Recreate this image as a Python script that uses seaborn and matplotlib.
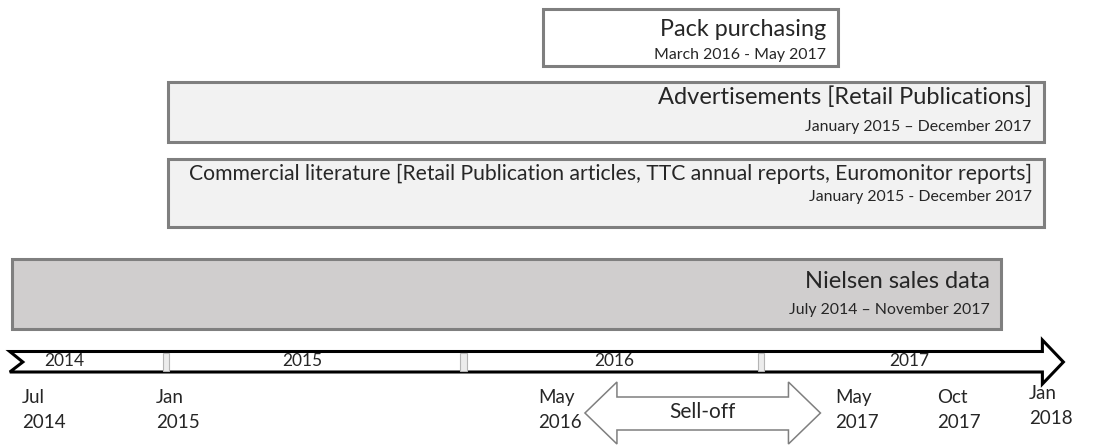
import seaborn as sns
import matplotlib.pyplot as plt
from matplotlib.patches import Polygon, Rectangle

# Data sources and the period each covers (x = months after July 2014)
sources = ["Pack purchasing",
           "Advertisements [Retail Publications]",
           "Commercial literature [Retail Publication articles, TTC annual reports, Euromonitor reports]",
           "Nielsen sales data"]
periods = ["March 2016 - May 2017",
           "January 2015 \u2013 December 2017",
           "January 2015 - December 2017",
           "July 2014 \u2013 November 2017"]
start_month = [21.2, 6.1, 6.1, -0.2]
end_month = [33.1, 41.4, 41.4, 39.7]

years = ["2014", "2015", "2016", "2017"]
year_label_month = [1.9, 11.5, 24.1, 36.0]
year_break_month = [6, 18, 30]

milestones = ["Jul\n2014", "Jan\n2015", "May\n2016", "May\n2017", "Oct\n2017", "Jan\n2018"]
milestone_month = [0.2, 5.6, 21.0, 33.0, 37.1, 40.8]

selloff_start, selloff_end = 22.9, 32.4
timeline_start, timeline_end = -0.3, 42.2

# layout (vertical positions in pixels from top)
box_top = [9, 82, 159, 259]
box_bottom = [66, 142, 227, 329]
title_y = [29, 97, 174, 281]
sub_y = [55, 127, 197, 310]
title_size = [16.8, 17, 15.2, 17]
fills = ["white", "#f2f2f2", "#f2f2f2", "#d0cece"]
txt = "#262626"

sns.set_theme(style="white")
plt.rcParams["font.family"] = ["Lato", "DejaVu Sans"]

fig = plt.figure(figsize=(10.99, 4.46), dpi=100)
ax = fig.add_axes([0, 0, 1, 1])
px0, px_per_month = 17.25, 24.79
ax.set_xlim(-px0 / px_per_month, (1099 - px0) / px_per_month)
ax.set_ylim(446, 0)
ax.axis("off")

# source boxes
for i in range(len(sources)):
    h = box_bottom[i] - box_top[i]
    ax.barh(box_top[i] + h / 2, end_month[i] - start_month[i], left=start_month[i],
            height=h, color=fills[i], edgecolor="#7f7f7f", linewidth=2.2)
    ax.annotate(sources[i], xy=(end_month[i], title_y[i]), xytext=(-12, 0),
                textcoords="offset pixels", ha="right", va="center",
                fontsize=title_size[i], color=txt)
    ax.annotate(periods[i], xy=(end_month[i], sub_y[i]), xytext=(-12, 0),
                textcoords="offset pixels", ha="right", va="center",
                fontsize=11.4, color=txt)

# timeline arrow
head = 21 / px_per_month
notch = 13 / px_per_month
ts, te = timeline_start, timeline_end
arrow = [(ts, 351.5), (te - head, 351.5), (te - head, 340), (te, 362),
         (te - head, 384), (te - head, 372), (ts, 372), (ts + notch, 362)]
ax.add_patch(Polygon(arrow, closed=True, facecolor="white", edgecolor="black",
                     linewidth=2.2, joinstyle="miter", zorder=3))
for m in year_break_month:
    ax.add_patch(Rectangle((m - 0.13, 353.2), 0.26, 17.6, facecolor="#ececec",
                           edgecolor="#b5b5b5", linewidth=0.8, zorder=4))
for y, m in zip(years, year_label_month):
    ax.text(m, 361, y, ha="center", va="center", fontsize=12.5, color=txt, zorder=5)

# milestone labels
for lab, m in zip(milestones, milestone_month):
    yc = 406 if lab == "Jan\n2018" else 410
    ax.text(m, yc, lab, ha="left", va="center", fontsize=13.5,
            color=txt, linespacing=1.55)

# sell-off double arrow
hl = 32 / px_per_month
s, e = selloff_start, selloff_end
sell = [(s, 413), (s + hl, 382), (s + hl, 397), (e - hl, 397), (e - hl, 382), (e, 413),
        (e - hl, 444), (e - hl, 430), (s + hl, 430), (s + hl, 444)]
ax.add_patch(Polygon(sell, closed=True, facecolor="white", edgecolor="#7f7f7f",
                     linewidth=1.1, zorder=3))
ax.text((s + e) / 2, 412, "Sell-off", ha="center", va="center", fontsize=15,
        color=txt, zorder=4)

fig.savefig("out.png", dpi=100)
